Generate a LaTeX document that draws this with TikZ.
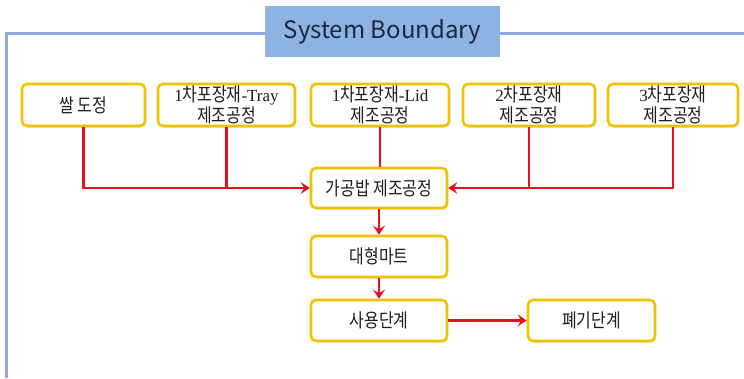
\documentclass[tikz,border=0pt]{standalone}
\usepackage{fontspec}
\setmainfont{Noto Sans CJK KR}
\newfontfamily\hangulnarrow[FakeStretch=0.84]{Noto Sans CJK KR}
\newfontfamily\latinserif{Liberation Serif}
\newcommand\serifpart[1]{{\latinserif\fontsize{17}{20}\selectfont #1}}
\usetikzlibrary{arrows.meta,shadows}

\definecolor{framebl}{HTML}{8EA9DB}
\definecolor{titlebl}{HTML}{8DB3E2}
\definecolor{titletx}{HTML}{1C2740}
\definecolor{boxgold}{HTML}{F2C200}
\definecolor{flowred}{HTML}{E5101E}
\definecolor{txtdark}{HTML}{1E1E1E}

\tikzset{
  procbox/.style={draw=boxgold, line width=2.6pt, rounded corners=5pt, fill=white,
    text=txtdark, font=\hangulnarrow\fontsize{19}{20}\selectfont, align=center, inner sep=0pt,
    minimum height=42pt,
    drop shadow={shadow xshift=1.2pt, shadow yshift=-1.6pt, opacity=0.3}},
  flow/.style={draw=flowred, line width=2.8pt},
  flowarrow/.style={flow, -{Stealth[length=9pt,width=12pt,inset=3.5pt]}},
}

\begin{document}
\begin{tikzpicture}[x=1pt,y=-1pt]
  \useasboundingbox (0,0) rectangle (744,378);

  % system boundary frame
  \draw[framebl, line width=3pt] (6,378) -- (6,33) -- (744,33);
  \node[fill=titlebl, minimum width=235pt, minimum height=51pt, inner sep=0pt,
        text=titletx, font=\fontsize{24}{28}\selectfont] (title) at (382.5,31.5) {System Boundary};

  % input processes
  \node[procbox, minimum width=123pt] (rice) at (83.5,105) {쌀 도정};
  \node[procbox, minimum width=137pt] (tray) at (226.5,105) {\serifpart{1}차포장재\serifpart{-Tray}\\[1pt]제조공정};
  \node[procbox, minimum width=138pt] (lid)  at (380,105) {\serifpart{1}차포장재\serifpart{-Lid}\\[1pt]제조공정};
  \node[procbox, minimum width=132pt] (pk2)  at (529,105) {\serifpart{2}차포장재\\[1pt]제조공정};
  \node[procbox, minimum width=130pt] (pk3)  at (673,105) {\serifpart{3}차포장재\\[1pt]제조공정};

  % main chain
  \node[procbox, minimum width=136pt, minimum height=40pt] (cook) at (379,188) {가공밥 제조공정};
  \node[procbox, minimum width=136pt, minimum height=41pt] (mart) at (379,256.5) {대형마트};
  \node[procbox, minimum width=136pt, minimum height=41pt] (use)  at (379,320.5) {사용단계};
  \node[procbox, minimum width=127pt, minimum height=41pt] (disp) at (591.5,320.5) {폐기단계};

  % connectors
  \draw[flowarrow] (rice.south) |- (cook.west);
  \draw[flow] (tray.south) -- (tray.south |- cook.west);
  \draw[flow] (lid.south) -- (lid.south |- cook.north);
  \draw[flowarrow] (pk3.south) |- (cook.east);
  \draw[flow] (pk2.south) -- (pk2.south |- cook.east);
  \draw[flowarrow] (cook.south) -- (mart.north);
  \draw[flowarrow] (mart.south) -- (use.north);
  \draw[flowarrow] (use.east) -- (disp.west);
\end{tikzpicture}
\end{document}
